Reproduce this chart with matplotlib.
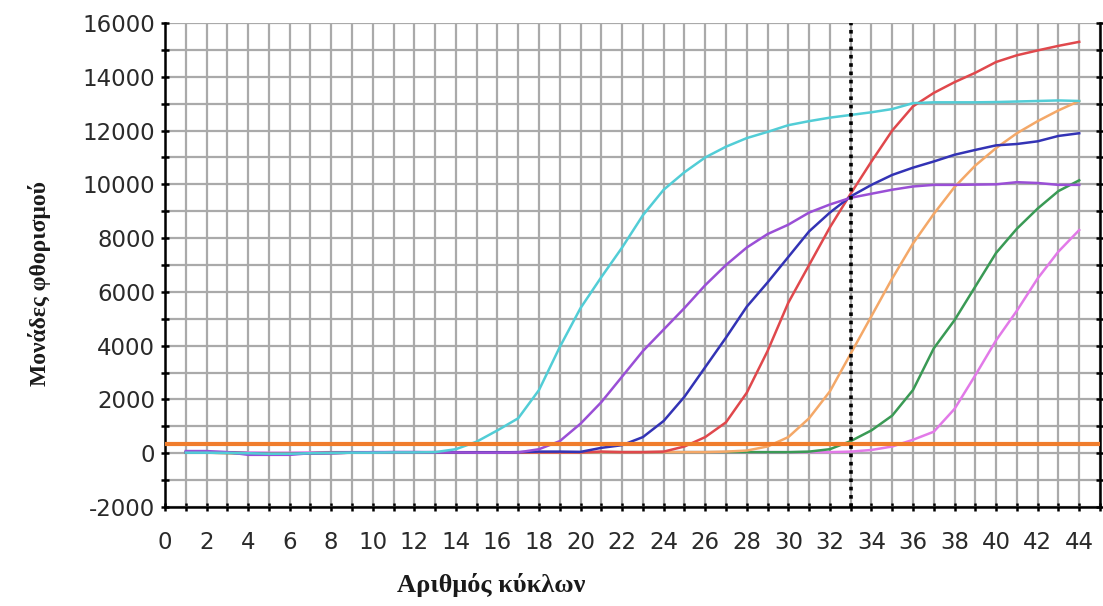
import numpy as np
import matplotlib
matplotlib.use("Agg")
import matplotlib.pyplot as plt
from matplotlib.ticker import MultipleLocator

plt.rcParams["axes.unicode_minus"] = False

cycles = list(range(1, 45))

cyan = [20, 20, 10, 0, -20, -20, 0, 10, 20, 20, 30, 30, 40, 150,
        430, 850, 1300, 2350, 3950, 5400, 6550, 7650, 8850, 9800, 10450, 11000,
        11400, 11720, 11950, 12200, 12350, 12480, 12580, 12680, 12800, 13020,
        13050, 13050, 13050, 13060, 13080, 13100, 13120, 13100]
purple = [80, 80, 40, -60, -60, -60, 0, 0, 20, 40, 40, 40, 30, 30, 20, 20, 30,
          150, 450, 1100, 1900, 2850, 3800, 4600, 5400, 6250, 7000, 7650, 8150,
          8500, 8950, 9250, 9500, 9650, 9800, 9920, 9980, 9980, 9990, 10000,
          10080, 10050, 9980, 9980]
blue = [30, 30, 20, 0, -30, -30, 0, 10, 20, 30, 40, 40, 40, 30, 30, 30, 40, 60,
        60, 50, 200, 300,
        600, 1200, 2100, 3200, 4300, 5450, 6350, 7300, 8250, 8950, 9550, 9980,
        10350, 10620, 10850, 11100, 11280, 11450, 11500, 11600, 11800, 11900]
red = [20, 20, 10, 0, -20, -20, 0, 10, 20, 20, 30, 30, 30, 30, 20, 20, 30, 30,
       30, 30, 60, 40, 40, 60,
       250, 600, 1150, 2250, 3800, 5600, 7000, 8400, 9650, 10850, 12000, 12900,
       13400, 13800, 14150, 14550, 14800, 14980, 15150, 15300]
orange = [20, 20, 10, 0, -20, -20, 0, 10, 20, 20, 30, 30, 30, 30, 20, 20, 30,
          30, 30, 30, 40, 40, 40, 40, 40, 40, 60, 100,
          250, 600, 1300, 2300, 3700, 5100, 6500, 7800, 8900, 9900, 10700,
          11350, 11900, 12350, 12750, 13100]
green = [20, 20, 10, 0, -20, -20, 0, 10, 20, 20, 30, 30, 30, 30, 20, 20, 30,
         30, 30, 30, 40, 40, 40, 40, 40, 40, 40, 40, 40, 40, 60,
         150, 450, 850, 1400, 2350, 3900, 4950, 6200, 7450, 8350, 9100, 9750,
         10150]
magenta = [50, 50, 40, 30, 20, 20, 30, 40, 40, 40, 40, 40, 40, 40, 40, 40, 40,
           40, 40, 40, 40, 40, 40, 40, 40, 40, 40, 40, 40, 40, 40, 40, 60, 120,
           250, 500, 800, 1650, 2900, 4200, 5300, 6500, 7500, 8300]

series = [
    (magenta, "#e27ae8"),
    (green, "#3a9a55"),
    (orange, "#f4a868"),
    (red, "#e0484c"),
    (blue, "#3333b5"),
    (purple, "#9a4fd6"),
    (cyan, "#52cdd6"),
]

threshold = 330
ct_cycle = 33

x_ticks = list(range(0, 45, 2))
y_ticks = list(range(-2000, 16001, 2000))

fig = plt.figure(figsize=(11.03, 6.06), dpi=100)
ax = fig.add_axes([165 / 1103, 1 - 507 / 606, (1100 - 165) / 1103, (507 - 23) / 606])

ax.set_xlim(0, 45)
ax.set_ylim(-2000, 16000)

ax.xaxis.set_minor_locator(MultipleLocator(1))
ax.yaxis.set_minor_locator(MultipleLocator(1000))
ax.set_xticks(x_ticks)
ax.set_yticks(y_ticks)

ax.grid(True, which="both", color="#aaaaaa", linewidth=1.6, zorder=0)
ax.set_axisbelow(True)

for vals, col in series:
    ax.plot(cycles, vals, color=col, linewidth=1.8, zorder=3)

ax.axhline(threshold, color="#f07d2c", linewidth=3, zorder=4)
ax.axvline(ct_cycle, color="black", linewidth=2.6, linestyle=(0, (1, 1.3)), zorder=5)

for s in ["left", "bottom", "right"]:
    ax.spines[s].set_color("black")
    ax.spines[s].set_linewidth(1.8)
ax.spines["top"].set_visible(False)

ax.tick_params(axis="both", which="both", direction="inout", length=6, width=1.8,
               color="black", labelsize=16.5, labelcolor="#2a2a2a")
ax.tick_params(axis="y", which="both", right=True, labelright=False)
ax.tick_params(axis="x", which="major", pad=14)
ax.tick_params(axis="y", which="major", pad=4)

fig.text(40 / 1103, 1 - 283 / 606, "Μονάδες φθορισμού", rotation=90,
         ha="center", va="center", fontsize=17, fontweight="bold",
         family="Liberation Serif", color="#1a1a1a")
fig.text(491 / 1103, 1 - 585 / 606, "Αριθμός κύκλων", ha="center", va="center",
         fontsize=19, fontweight="bold", family="Liberation Serif", color="#1a1a1a")

fig.savefig("out.png", dpi=100)
